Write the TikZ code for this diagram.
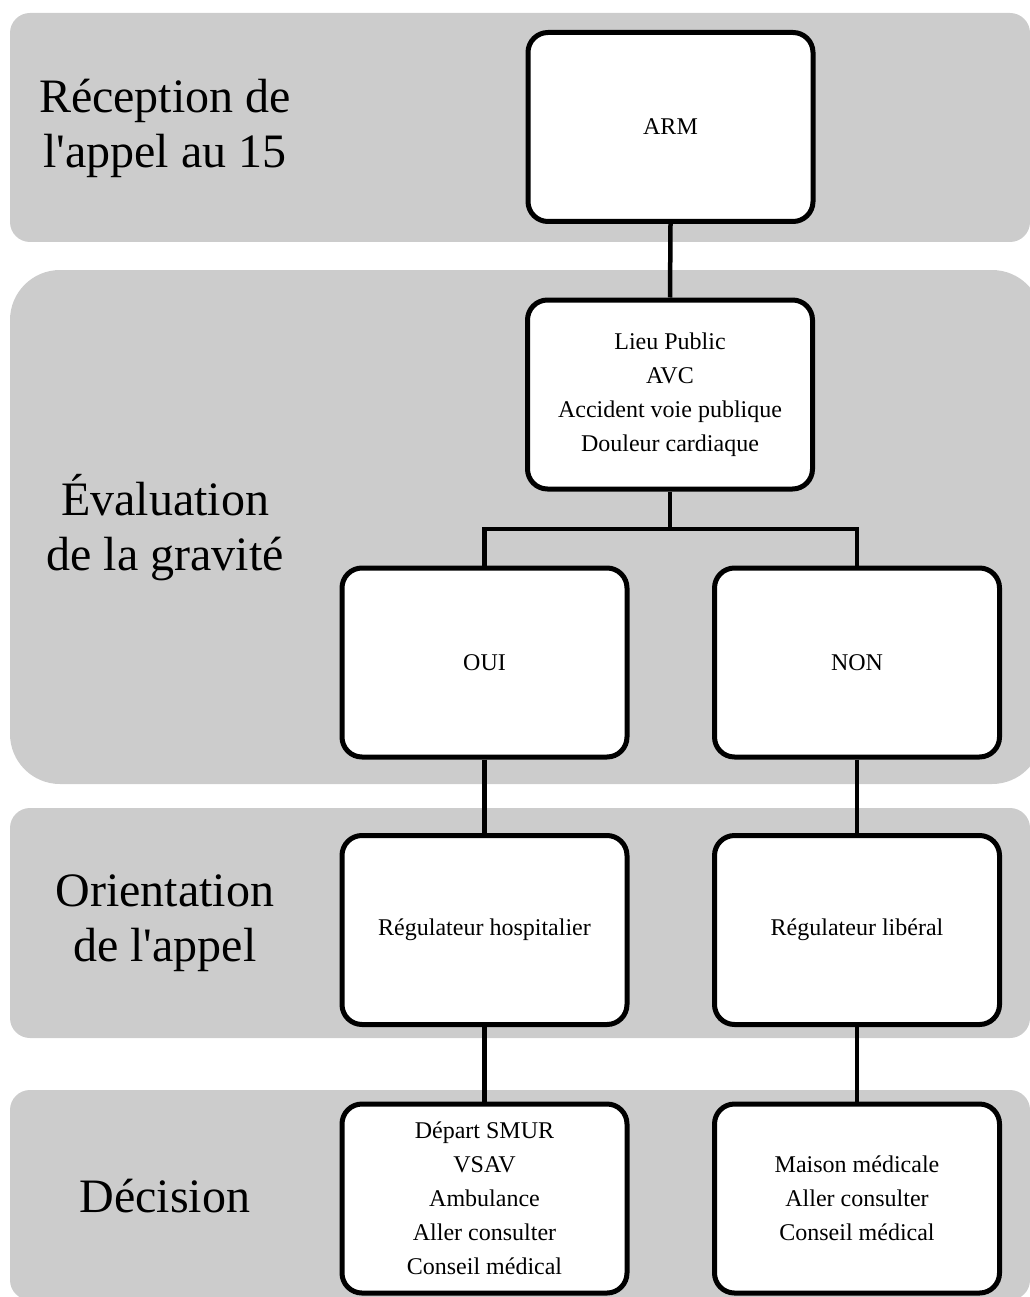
\documentclass[tikz,border=0pt]{standalone}
\usepackage{fontspec}
\setmainfont{Liberation Serif}[Ligatures=TeXOff]
\definecolor{bandgray}{HTML}{CCCCCC}
\begin{document}
\begin{tikzpicture}[x=1pt,y=-1pt,
  band/.style={fill=bandgray},
  bandlabel/.style={align=center,font=\fontsize{48}{55}\selectfont,inner sep=0pt},
  box/.style={draw=black,fill=white,line width=5pt,rounded corners=20pt,
    minimum width=285pt,minimum height=189pt,align=center,
    font=\fontsize{24}{34}\selectfont,inner sep=0pt},
  link/.style={draw=black,line width=4.5pt,line join=miter}]
\useasboundingbox (0,0) rectangle (1029,1297);
\fill[band,rounded corners=20pt] (10,13) rectangle (1030,242);
\fill[band,rounded corners=50pt] (10,270) rectangle (1042,784);
\fill[band,rounded corners=20pt] (10,808) rectangle (1030,1038);
\fill[band,rounded corners=20pt] (10,1090) rectangle (1030,1300);

\node[bandlabel] (l1) at (165,128) {Réception de\\l'appel au 15};
\node[bandlabel] (l2) at (165,528) {Évaluation\\de la gravité};
\node[bandlabel] (l3) at (165,923) {Orientation\\de l'appel};
\node[bandlabel] (l4) at (165,1196) {Décision};

\node[box] (arm) at (670.5,127) {ARM};
\node[box] (crit) at (670,394.5) {Lieu Public\\AVC\\Accident voie publique\\Douleur cardiaque};
\node[box] (oui) at (484.5,662.5) {OUI};
\node[box] (non) at (857,662.5) {NON};
\node[box] (rh) at (484.5,930) {Régulateur hospitalier};
\node[box] (rl) at (857,930) {Régulateur libéral};
\node[box] (dh) at (484.5,1198.5) {Départ SMUR\\VSAV\\Ambulance\\Aller consulter\\Conseil médical};
\node[box] (dl) at (857,1198.5) {Maison médicale\\Aller consulter\\Conseil médical};

\coordinate (split) at (670,529);
\path[link] (arm.south) -- (crit.north);
\path[link] (crit.south) -- (split);
\path[link] (oui.north) |- (split) -| (non.north);
\path[link] (oui.south) -- (rh.north);
\path[link] (non.south) -- (rl.north);
\path[link] (rh.south) -- (dh.north);
\path[link] (rl.south) -- (dl.north);
\end{tikzpicture}
\end{document}
